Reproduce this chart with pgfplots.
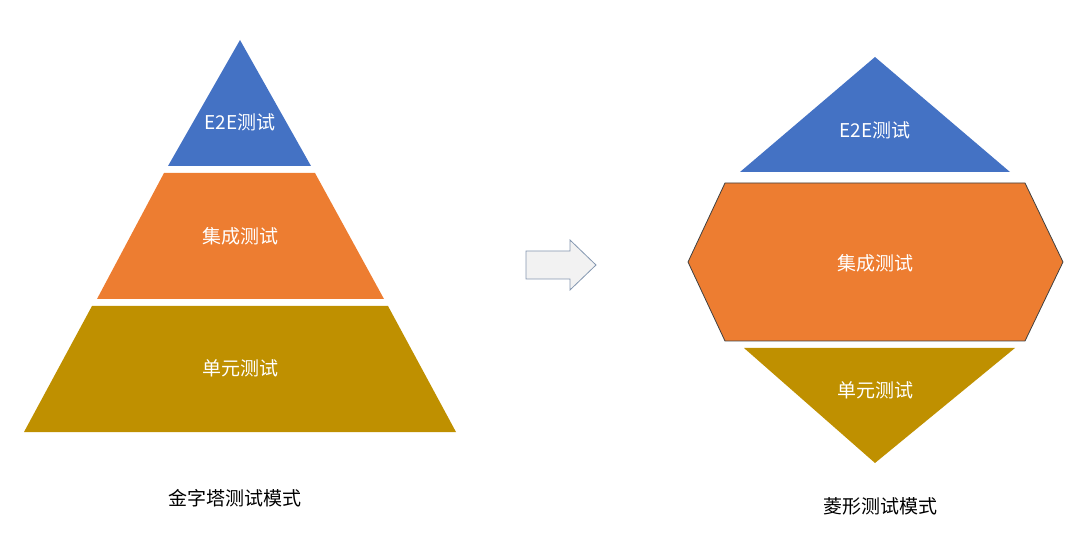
\documentclass[border=0pt]{standalone}
\usepackage{pgfplots}
\pgfplotsset{compat=1.18}
\usepackage{fontspec}
\newfontfamily\cjk{Noto Sans CJK SC}
\newcommand\T[1]{{\cjk\fontsize{19}{22}\selectfont #1}}
\definecolor{cblue}{HTML}{4472C4}
\definecolor{corange}{HTML}{ED7D31}
\definecolor{cgold}{HTML}{BF9000}
\definecolor{agray}{HTML}{F2F2F2}
\definecolor{aedge}{HTML}{8497B0}
\begin{document}
\begin{tikzpicture}
\begin{axis}[x=1pt,y=1pt,xmin=0,xmax=1080,ymin=0,ymax=540,y dir=reverse,
  hide axis,clip=false,scale only axis]
\path (axis cs:0,0) rectangle (axis cs:1080,540);
% left pyramid
\addplot[fill=cblue,draw=none] coordinates {(240,40) (311,166) (168,166)} -- cycle;
\addplot[fill=corange,draw=none] coordinates {(164,173) (315,173) (384,299) (97,299)} -- cycle;
\addplot[fill=cgold,draw=none] coordinates {(92,306) (388,306) (456,432) (24,432)} -- cycle;
% arrow
\addplot[fill=agray,draw=aedge,line width=0.8pt] coordinates {(526,251) (570,251) (570,240) (596,265) (570,290) (570,279) (526,279)} -- cycle;
% right diamond
\addplot[fill=cblue,draw=none] coordinates {(875,57) (1010,172) (740,172)} -- cycle;
\addplot[fill=corange,draw=black!75,line width=0.8pt] coordinates {(725,183) (1025,183) (1063,262) (1025,341) (725,341) (688,262)} -- cycle;
\addplot[fill=cgold,draw=none] coordinates {(744,348) (1015,348) (875,463)} -- cycle;
\node[white] at (axis cs:240,122) {\T{E2E测试}};
\node[white] at (axis cs:240,236) {\T{集成测试}};
\node[white] at (axis cs:240,368) {\T{单元测试}};
\node[white] at (axis cs:875,130) {\T{E2E测试}};
\node[white] at (axis cs:875,263) {\T{集成测试}};
\node[white] at (axis cs:875,390) {\T{单元测试}};
\node[black] at (axis cs:235,498) {\T{金字塔测试模式}};
\node[black] at (axis cs:880,506) {\T{菱形测试模式}};
\end{axis}
\end{tikzpicture}
\end{document}
